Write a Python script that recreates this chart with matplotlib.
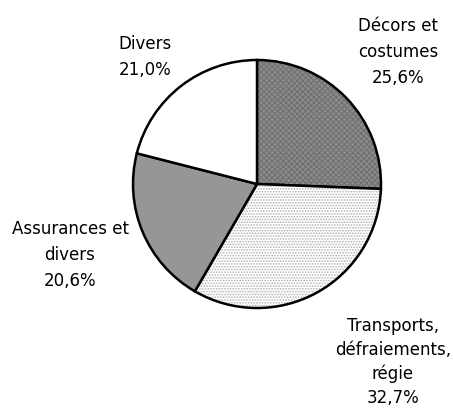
import matplotlib
matplotlib.use("Agg")
import matplotlib.pyplot as plt

plt.rcParams["font.family"] = ["DejaVu Sans"]
plt.rcParams["hatch.linewidth"] = 0.8

# données
categories = ["Décors et\ncostumes", "Transports,\ndéfraiements,\nrégie", "Assurances et\ndivers", "Divers"]
valeurs = [25.6, 32.7, 20.6, 21.0]
etiquettes = ["25,6%", "32,7%", "20,6%", "21,0%"]

# style des parts
couleurs = ["#8c8c8c", "#ffffff", "#969696", "#ffffff"]
hachures = ["xxxxxx", "......", None, None]
couleurs_hachure = ["#707070", "#b0b0b0", None, None]
# positions des textes en pixels depuis le haut
pos_textes = [(398, 52), (393, 362), (70, 255), (145, 57)]
interlignes = [1.6, 1.42, 1.55, 1.55]

H = 410
fig = plt.figure(figsize=(4.53, 4.10), dpi=100)
ax = fig.add_axes([0, 0, 1, 1])

wedges, _ = ax.pie(valeurs, startangle=90, counterclock=False, center=(257, H - 185),
                   radius=124, colors=couleurs, frame=True,
                   wedgeprops=dict(edgecolor="black", linewidth=1.8))
ax.set_xlim(0, 453)
ax.set_ylim(0, H)
ax.axis("off")

for w, h, hc in zip(wedges, hachures, couleurs_hachure):
    if h:
        w.set_hatch(h)
        w._hatch_color = matplotlib.colors.to_rgba(hc)

for cat, lab, (x, y), ls in zip(categories, etiquettes, pos_textes, interlignes):
    ax.text(x, H - y, cat + "\n" + lab, ha="center", va="center", fontsize=12,
            linespacing=ls, color="black")

fig.savefig("out.png", dpi=100)
